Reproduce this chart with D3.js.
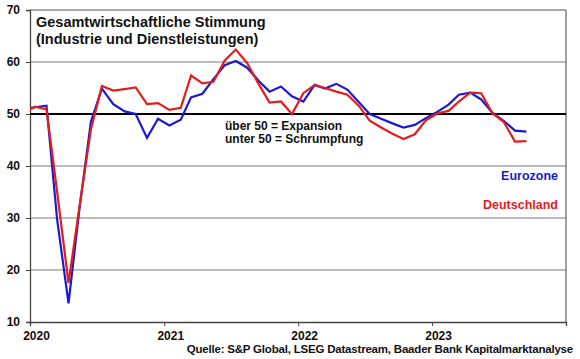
<!DOCTYPE html>
<html><head><meta charset="utf-8">
<script src="https://cdn.jsdelivr.net/npm/d3@7"></script>
<style>
html,body{margin:0;padding:0;background:#fff;}
svg{display:block;font-family:"Liberation Sans",Arial,sans-serif;font-weight:bold;}
</style></head>
<body><svg id="c" width="580" height="359"></svg>
<script>
// Monthly data, Dec 2019 - Sep 2023
const months = [
 "2019-12",
 "2020-01","2020-02","2020-03","2020-04","2020-05","2020-06","2020-07","2020-08","2020-09","2020-10","2020-11","2020-12",
 "2021-01","2021-02","2021-03","2021-04","2021-05","2021-06","2021-07","2021-08","2021-09","2021-10","2021-11","2021-12",
 "2022-01","2022-02","2022-03","2022-04","2022-05","2022-06","2022-07","2022-08","2022-09","2022-10","2022-11","2022-12",
 "2023-01","2023-02","2023-03","2023-04","2023-05","2023-06","2023-07","2023-08","2023-09"];
const eurozone = [
 50.9,
 51.3,51.6,29.7,13.6,31.9,48.5,54.9,51.9,50.5,50.0,45.4,49.1,
 47.8,48.9,53.2,53.9,56.7,59.4,60.2,58.9,56.4,54.3,55.3,53.4,
 52.4,55.6,54.9,55.8,54.7,52.3,50.0,49.1,48.2,47.4,47.9,49.2,
 50.4,51.8,53.7,54.1,52.8,50.2,48.7,46.8,46.6];
const deutschland = [
 50.2,
 51.4,50.9,35.0,17.5,32.3,47.0,55.4,54.5,54.8,55.1,51.9,52.1,
 50.8,51.2,57.4,55.9,56.2,60.3,62.4,59.8,55.8,52.2,52.4,50.0,
 54.0,55.6,55.0,54.3,53.7,51.6,48.7,47.4,46.2,45.2,46.1,48.8,
 50.1,50.6,52.4,54.1,54.0,50.1,48.5,44.7,44.8];
const yTicks = [10,20,30,40,50,60,70];
const xTickYears = [2020,2021,2022,2023];
const titleLines = ["Gesamtwirtschaftliche Stimmung","(Industrie und Dienstleistungen)"];
const noteLines = ["über 50 = Expansion","unter 50 = Schrumpfung"];
const seriesNames = ["Eurozone","Deutschland"];
const source = "Quelle: S&P Global, LSEG Datastream, Baader Bank Kapitalmarktanalyse";

const BLUE = "#1a1ad0", RED = "#e41c1c";
const svg = d3.select("#c");
const L = 30, R = 566, T = 10, B = 322;

const parse = d3.timeParse("%Y-%m");
const dates = months.map(m => { const d = parse(m); return new Date(d.getFullYear(), d.getMonth(), 15); });

const x = d3.scaleTime().domain([new Date(2020,0,1), new Date(2024,0,1)]).range([L, R]);
const y = d3.scaleLinear().domain([10,70]).range([B, T]);

svg.append("clipPath").attr("id","clip").append("rect")
  .attr("x",L).attr("y",T-5).attr("width",R-L).attr("height",B-T+10);

// grid
svg.append("g").selectAll("line").data(yTicks.filter(v => v!==10 && v!==50 && v!==70)).join("line")
  .attr("x1",L).attr("x2",R).attr("y1",d=>y(d)).attr("y2",d=>y(d))
  .attr("stroke","#a6a6a6").attr("stroke-width",1.3);
// top & right border
svg.append("line").attr("x1",L).attr("x2",R).attr("y1",y(70)).attr("y2",y(70)).attr("stroke","#8c8c8c").attr("stroke-width",1.3);
svg.append("line").attr("x1",R).attr("x2",R).attr("y1",T).attr("y2",B).attr("stroke","#6e6e6e").attr("stroke-width",1.3);

// axes
const yAxis = d3.axisLeft(y).tickValues(yTicks).tickSize(4).tickPadding(6).tickFormat(d3.format("d"));
const gy = svg.append("g").attr("transform",`translate(${L},0)`).call(yAxis);
gy.select(".domain").attr("stroke","#444").attr("stroke-width",1.3);
gy.selectAll(".tick line").attr("stroke","#444");
gy.selectAll("text").attr("font-size",12).attr("font-weight","bold").attr("fill","#111")
  .attr("font-family","'Liberation Sans',Arial,sans-serif");

const xAxis = d3.axisBottom(x).tickValues(xTickYears.map(yr => new Date(yr,0,1)).concat([new Date(2024,0,1)]))
  .tickSize(4).tickPadding(5).tickFormat(d => d.getFullYear() < 2024 ? d3.timeFormat("%Y")(d) : "");
const gx = svg.append("g").attr("transform",`translate(0,${B})`).call(xAxis);
gx.select(".domain").attr("stroke","#444").attr("stroke-width",1.3);
gx.selectAll(".tick line").attr("stroke","#444");
gx.selectAll("text").attr("font-size",12).attr("font-weight","bold").attr("fill","#111")
  .attr("font-family","'Liberation Sans',Arial,sans-serif").attr("dx",6);

// 50 line
svg.append("line").attr("x1",L).attr("x2",R).attr("y1",y(50)).attr("y2",y(50)).attr("stroke","#000").attr("stroke-width",2);

// lines
const line = d3.line().x((d,i)=>x(dates[i])).y(d=>y(d));
const gl = svg.append("g").attr("clip-path","url(#clip)");
gl.append("path").datum(eurozone).attr("d",line).attr("fill","none").attr("stroke",BLUE).attr("stroke-width",2.2).attr("stroke-linejoin","miter");
gl.append("path").datum(deutschland).attr("d",line).attr("fill","none").attr("stroke",RED).attr("stroke-width",2.2).attr("stroke-linejoin","miter");

// title
svg.append("g").selectAll("text").data(titleLines).join("text")
  .attr("x",36).attr("y",(d,i)=>27+i*17).attr("font-size",14.5).attr("fill","#111").text(d=>d);

// note
svg.append("g").selectAll("text").data(noteLines).join("text")
  .attr("x",225).attr("y",(d,i)=>130+i*13).attr("font-size",12).attr("fill","#111").text(d=>d);

// legend
svg.append("text").attr("x",558).attr("y",180).attr("text-anchor","end").attr("font-size",12.5).attr("fill",BLUE).text(seriesNames[0]);
svg.append("text").attr("x",558).attr("y",209).attr("text-anchor","end").attr("font-size",12.5).attr("fill",RED).text(seriesNames[1]);

// source (fit to ~386px with negative letter spacing)
const src = svg.append("text").attr("x",573).attr("y",353).attr("text-anchor","end").attr("font-size",11.5)
  .attr("fill","#111").text(source);
const natural = src.node().getComputedTextLength();
const ls = Math.max(-1, (386 - natural) / source.length);
src.attr("letter-spacing", ls.toFixed(2));
</script></body></html>
